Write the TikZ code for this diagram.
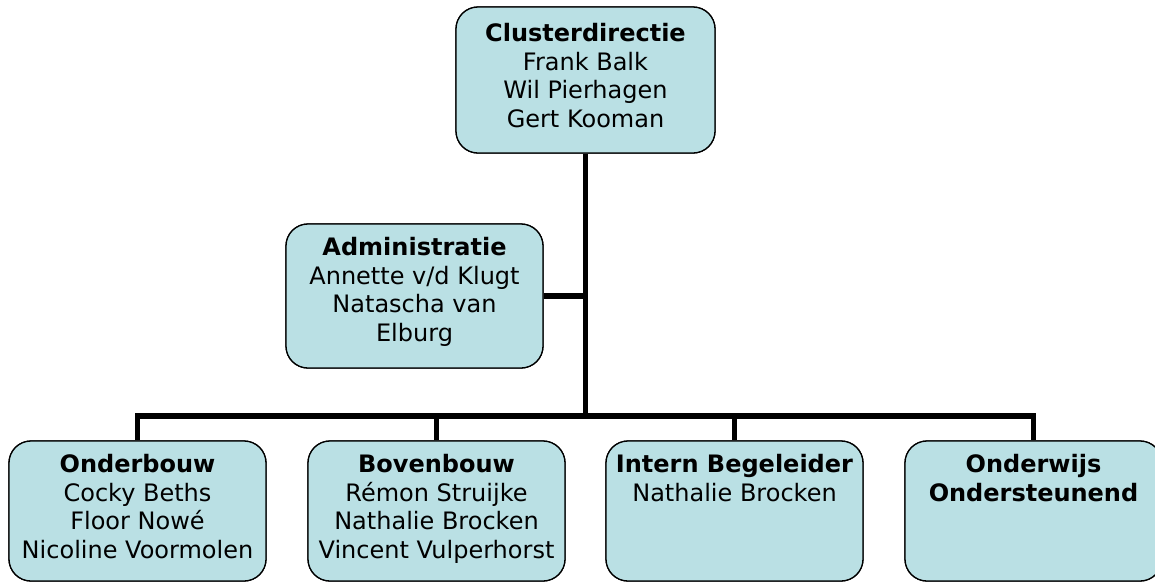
\documentclass[tikz,border=0pt]{standalone}
\usepackage{fontspec}
\setmainfont{DejaVu Sans}
\definecolor{boxfill}{RGB}{186,224,228}
\tikzset{
  box/.style={draw=black, line width=1.3pt, fill=boxfill, rounded corners=22pt,
    minimum width=257pt, inner sep=0pt},
  boxtext/.style={anchor=north, inner sep=0pt, align=center,
    font=\fontsize{24}{28.5}\selectfont},
  conn/.style={draw=black, line width=5.5pt}
}
\newcommand{\fst}{\rule{0pt}{20pt}}
\begin{document}
\begin{tikzpicture}[x=1pt,y=-1pt]
\useasboundingbox (0,0) rectangle (1155,582);
% boxes (geometry)
\node[box, minimum width=259pt, minimum height=146pt] (top) at (585.5,80) {};
\node[box, minimum height=144pt] (adm) at (414.5,296) {};
\node[box, minimum height=140pt] (ob) at (137.5,511) {};
\node[box, minimum height=140pt] (bb) at (436.5,511) {};
\node[box, minimum height=140pt] (ib) at (734.5,511) {};
\node[box, minimum height=140pt] (io) at (1033.5,511) {};
% connectors
\coordinate (j) at (585.5,416);
\draw[conn] (top.south) -- (j);
\draw[conn] (adm.east) -- (adm.east -| j);
\draw[conn] (ob.north) |- (io.north |- j) -- (io.north);
\draw[conn] (bb.north) -- (bb.north |- j);
\draw[conn] (ib.north) -- (ib.north |- j);
% redraw boxes over connector ends
\node[box, minimum width=259pt, minimum height=146pt] at (top) {};
\node[box, minimum height=144pt] at (adm) {};
\node[box, minimum height=140pt] at (ob) {};
\node[box, minimum height=140pt] at (bb) {};
\node[box, minimum height=140pt] at (ib) {};
\node[box, minimum height=140pt] at (io) {};
% texts
\node[boxtext] (topt) at ([yshift=-15pt]top.north) {\fst\textbf{Clusterdirectie}\\Frank Balk\\Wil Pierhagen\\Gert Kooman};
\node[boxtext] (admt) at ([yshift=-12pt]adm.north) {\fst\textbf{Administratie}\\Annette v/d Klugt\\Natascha van\\Elburg};
\node[boxtext] (obt) at ([yshift=-12pt]ob.north) {\fst\textbf{Onderbouw}\\Cocky Beths\\Floor Nowé\\Nicoline Voormolen};
\node[boxtext] (bbt) at ([yshift=-12pt]bb.north) {\fst\textbf{Bovenbouw}\\Rémon Struijke\\Nathalie Brocken\\Vincent Vulperhorst};
\node[boxtext] (ibt) at ([yshift=-12pt]ib.north) {\fst\textbf{Intern Begeleider}\\Nathalie Brocken};
\node[boxtext] (iot) at ([yshift=-12pt]io.north) {\fst\textbf{Onderwijs}\\\textbf{Ondersteunend}};
\end{tikzpicture}
\end{document}
